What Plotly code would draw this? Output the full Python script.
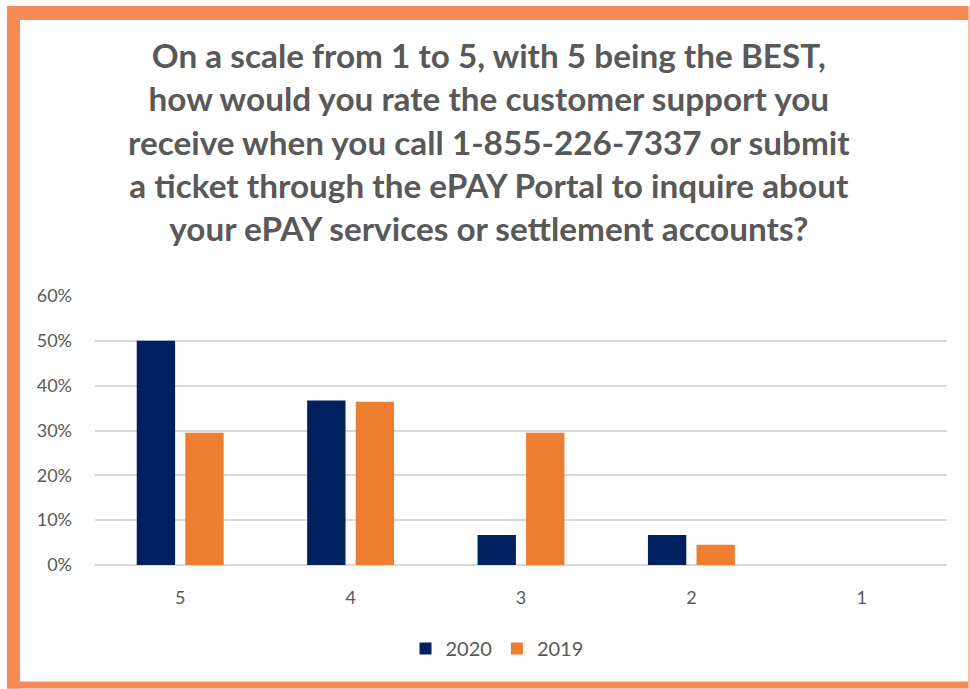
import plotly.graph_objects as go

categories = ["5", "4", "3", "2", "1"]
values_2020 = [0.50, 0.367, 0.067, 0.067, 0.0]
values_2019 = [0.295, 0.364, 0.295, 0.045, 0.0]
series_names = ["2020", "2019"]
title_lines = [
    "On a scale from 1 to 5, with 5 being the BEST,",
    "how would you rate the customer support you",
    "receive when you call 1-855-226-7337 or submit",
    "a ticket through the ePAY Portal to inquire about",
    "your ePAY services or settlement accounts?",
]

W, H = 970, 689
L, R, T, B = 95, 947, 295.7, 565.3
pw, ph = R - L, B - T

def px(x):
    return (x - L) / pw

def py(y):
    return (B - y) / ph

NAVY = "#002060"
ORANGE = "#ED7D31"
GREY = "#595959"
BORDER = "#F78B57"
FONT = "Lato"

fig = go.Figure()
fig.add_trace(go.Bar(x=categories, y=values_2020, name=series_names[0],
                     marker=dict(color=NAVY, line=dict(width=0))))
fig.add_trace(go.Bar(x=categories, y=values_2019, name=series_names[1],
                     marker=dict(color=ORANGE, line=dict(width=0))))

shapes = [
    dict(type="rect", xref="paper", yref="paper", x0=px(7), x1=px(20), y0=py(5), y1=py(689),
         fillcolor=BORDER, line=dict(width=0), layer="above"),
    dict(type="rect", xref="paper", yref="paper", x0=px(7), x1=px(970), y0=py(5), y1=py(19),
         fillcolor=BORDER, line=dict(width=0), layer="above"),
    dict(type="rect", xref="paper", yref="paper", x0=px(7), x1=px(970), y0=py(682), y1=py(689),
         fillcolor=BORDER, line=dict(width=0), layer="above"),
    dict(type="rect", xref="paper", yref="paper", x0=px(968), x1=px(970), y0=py(5), y1=py(689),
         fillcolor="#F9BFA3", line=dict(width=0), layer="above"),
]

fig.update_layout(
    width=W, height=H,
    margin=dict(l=L, r=W - R, t=T, b=H - B, pad=0),
    paper_bgcolor="white", plot_bgcolor="white",
    barmode="group", bargap=0.43, bargroupgap=0.21,
    font=dict(family=FONT, color=GREY, size=18),
    showlegend=True,
    legend=dict(orientation="h", x=px(497), xanchor="center", y=py(649), yanchor="middle",
                font=dict(family=FONT, size=20, color=GREY), itemwidth=30,
                traceorder="normal"),
    shapes=shapes,
    annotations=[dict(
        text="<br>".join(title_lines), xref="paper", yref="paper",
        x=px(489), y=py(141), xanchor="center", yanchor="middle",
        showarrow=False, align="center",
        font=dict(family=FONT, size=33.3, color=GREY, weight="bold"),
    )],
)
fig.update_yaxes(range=[0, 0.6], dtick=0.1, tickformat=".0%", showgrid=True,
                 gridcolor="#D9D9D9", gridwidth=1.5, zeroline=True, zerolinecolor="#D9D9D9",
                 zerolinewidth=1.5, showline=False, ticks="", ticklabelstandoff=22,
                 tickfont=dict(family=FONT, size=18, color=GREY), fixedrange=True)
fig.update_xaxes(showgrid=False, showline=False, ticks="", ticklabelstandoff=20,
                 tickfont=dict(family=FONT, size=18, color=GREY), fixedrange=True)

fig.write_html("out.html", config={"displayModeBar": False},
               post_script="document.body.style.margin='0';document.body.style.padding='0';document.documentElement.style.overflow='hidden';")
